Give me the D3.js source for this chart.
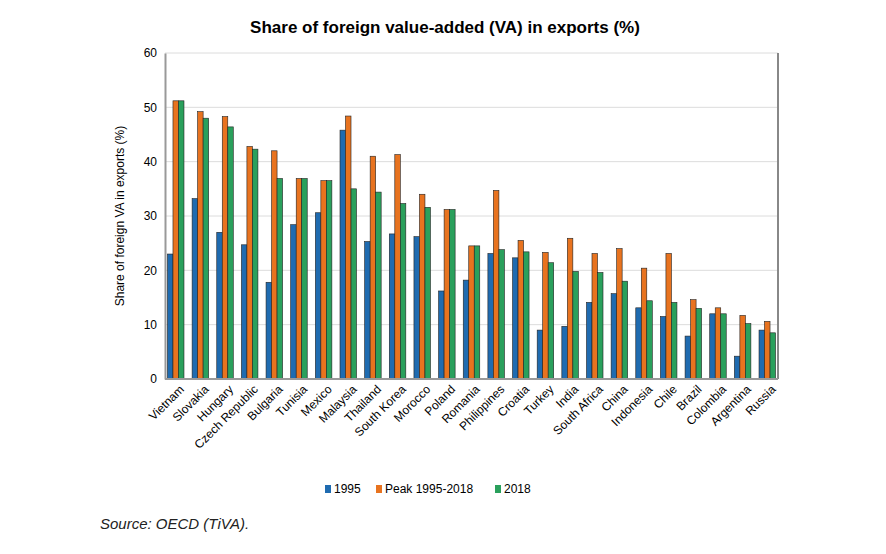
<!DOCTYPE html>
<html><head><meta charset="utf-8">
<script src="https://cdn.jsdelivr.net/npm/d3@7"></script>
<style>body{margin:0;background:#fff;font-family:Arial,"Liberation Sans",sans-serif;}</style>
</head><body><div id="chart"></div>
<script>
const countries = ["Vietnam","Slovakia","Hungary","Czech Republic","Bulgaria","Tunisia","Mexico","Malaysia","Thailand","South Korea","Morocco","Poland","Romania","Philippines","Croatia","Turkey","India","South Africa","China","Indonesia","Chile","Brazil","Colombia","Argentina","Russia"];
const v1995 = [23,33.2,27,24.7,17.8,28.4,30.6,45.8,25.3,26.7,26.2,16.2,18.2,23.1,22.3,9,9.7,14.1,15.7,13.1,11.5,7.9,12,4.2,9];
const vPeak = [51.2,49.2,48.3,42.8,42,36.9,36.5,48.4,41,41.3,34,31.2,24.5,34.7,25.5,23.3,25.9,23.1,24,20.4,23.1,14.6,13.1,11.7,10.6];
const v2018 = [51.2,48,46.4,42.3,36.9,36.9,36.5,35,34.4,32.3,31.6,31.2,24.5,23.8,23.4,21.4,19.8,19.6,18,14.4,14.1,13,12,10.2,8.5];
const seriesNames = ["1995","Peak 1995-2018","2018"];
const colors = ["#1f6bb0","#e8731f","#2aa05c"];
const yTicks = [0,10,20,30,40,50,60];

const svg = d3.select("#chart").append("svg").attr("width",886).attr("height",554);
const mLeft = 165, mRight = 778, mTop = 53, mBottom = 379;
const x = d3.scaleBand().domain(countries).range([mLeft,mRight]).paddingInner(0.33).paddingOuter(0.1);
const xs = d3.scaleBand().domain(seriesNames).range([0,x.bandwidth()]);
const y = d3.scaleLinear().domain([0,60]).range([mBottom,mTop]);

svg.append("text").attr("x",445).attr("y",33).attr("text-anchor","middle")
  .attr("font-size",17).attr("font-weight","bold").text("Share of foreign value-added (VA) in exports (%)");

svg.append("g").selectAll("line").data(yTicks.slice(1)).join("line")
  .attr("x1",mLeft).attr("x2",mRight).attr("y1",d=>y(d)).attr("y2",d=>y(d))
  .attr("stroke","#dcdcdc");
svg.append("line").attr("x1",mRight).attr("x2",mRight).attr("y1",mTop).attr("y2",mBottom).attr("stroke","#888").attr("stroke-width",2);

const yAxis = svg.append("g").attr("transform",`translate(${mLeft},0)`)
  .call(d3.axisLeft(y).tickValues(yTicks).tickSize(0).tickPadding(8));
yAxis.select(".domain").attr("stroke","#999").attr("stroke-width",2);
yAxis.selectAll("text").attr("font-size",12).attr("font-family","Arial,Liberation Sans");

svg.append("text").attr("transform",`translate(124,${(mTop+mBottom)/2}) rotate(-90)`)
  .attr("text-anchor","middle").attr("font-size",12).text("Share of foreign VA in exports (%)");

const all = [v1995,vPeak,v2018];
const g = svg.append("g");
seriesNames.forEach((s,i)=>{
  g.append("g").selectAll("rect").data(countries).join("rect")
    .attr("x",(c)=>x(c)+xs(s)).attr("width",xs.bandwidth())
    .attr("y",(c,j)=>y(all[i][j])).attr("height",(c,j)=>mBottom-y(all[i][j]))
    .attr("fill",colors[i]).attr("stroke","#222").attr("stroke-width",0.6);
});

svg.append("line").attr("x1",mLeft).attr("x2",mRight).attr("y1",mBottom).attr("y2",mBottom).attr("stroke","#999").attr("stroke-width",2);

const xAxis = svg.append("g").attr("transform",`translate(0,${mBottom})`)
  .call(d3.axisBottom(x).tickSize(0));
xAxis.select(".domain").remove();
xAxis.selectAll("text").attr("font-size",12).attr("font-family","Arial,Liberation Sans")
  .attr("text-anchor","end").attr("transform","translate(4,6) rotate(-45)").attr("dy","0.35em");

const leg = svg.append("g").attr("transform","translate(325,490)");
let lx = 0;
seriesNames.forEach((s,i)=>{
  leg.append("rect").attr("x",lx).attr("y",-5).attr("width",6).attr("height",8).attr("fill",colors[i]);
  leg.append("text").attr("x",lx+9).attr("y",3).attr("font-size",12).text(s);
  lx += [51,119,0][i];
});

svg.append("text").attr("x",100).attr("y",529).attr("font-size",15).attr("font-style","italic")
  .attr("fill","#222").text("Source: OECD (TiVA).");
</script></body></html>
